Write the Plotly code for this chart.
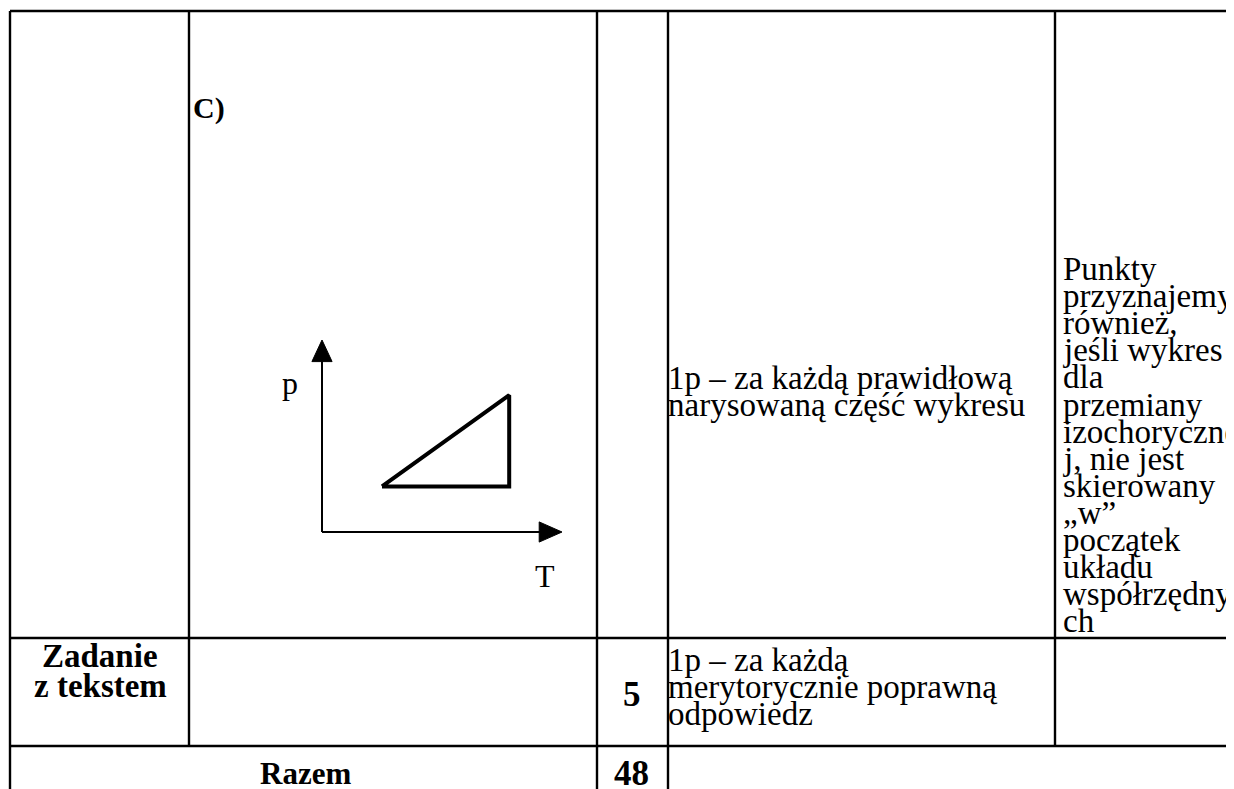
import plotly.graph_objects as go

W, H = 1234, 789
OFF = 8  # the page body adds an 8px margin; pull everything back by that much
SERIF = "Liberation Serif, Times New Roman, serif"

# p-T cycle drawn in the small diagram (arbitrary units)
cycle_T = [2.5, 7.8, 7.8, 2.5]
cycle_p = [1.9, 5.7, 1.9, 1.9]

criteria_lines = ["1p – za każdą prawidłową", "narysowaną część wykresu"]
note_lines = [
    "Punkty", "przyznajemy", "również,", "jeśli wykres", "dla", "przemiany",
    "izochoryczne", "j, nie jest", "skierowany", "„w”", "początek", "układu",
    "współrzędny", "ch",
]
task_label = ["Zadanie", "z tekstem"]
task_points = "5"
task_criteria = ["1p – za każdą", "merytorycznie poprawną", "odpowiedz"]
total_label = "Razem"
total_points = "48"

# table grid (pixels of the page)
COLS = [10, 189, 597, 668, 1055]
ROWS = [11, 638, 746]


def px(x):
    return (x - OFF) / W


def py(y):
    return 1 - (y - OFF) / H


def add_line(fig, x0, y0, x1, y1, width=2.4):
    fig.add_shape(type="line", xref="paper", yref="paper",
                  x0=px(x0), y0=py(y0), x1=px(x1), y1=py(y1),
                  line=dict(color="black", width=width))


def add_text(fig, x, y, text, size=33, bold=False, xanchor="left"):
    if bold:
        text = "<b>%s</b>" % text
    fig.add_annotation(xref="paper", yref="paper", x=px(x), y=py(y), text=text,
                       showarrow=False, xanchor=xanchor, yanchor="middle",
                       font=dict(family=SERIF, size=size, color="black"))


fig = go.Figure()

# triangle of the cycle on its own small p-T axes
fig.add_trace(go.Scatter(x=cycle_T, y=cycle_p, xaxis="x2", yaxis="y2",
                         mode="lines", line=dict(color="black", width=4),
                         hoverinfo="skip", showlegend=False))

# axis arrows of the diagram
fig.add_shape(type="line", xref="x2", yref="y2", x0=0, y0=0, x1=0, y1=7.2,
              line=dict(color="black", width=2))
fig.add_shape(type="path", xref="x2", yref="y2",
              path="M -0.42,7.1 L 0.42,7.1 L 0,8 Z",
              fillcolor="black", line=dict(color="black", width=1))
fig.add_shape(type="line", xref="x2", yref="y2", x0=0, y0=0, x1=9.1, y1=0,
              line=dict(color="black", width=2))
fig.add_shape(type="path", xref="x2", yref="y2",
              path="M 9.05,-0.42 L 9.05,0.42 L 10,0 Z",
              fillcolor="black", line=dict(color="black", width=1))

# table grid
for y in ROWS:
    add_line(fig, COLS[0], y, W + 20, y)
add_line(fig, COLS[0], ROWS[0], COLS[0], H + 20)
add_line(fig, COLS[1], ROWS[0], COLS[1], ROWS[2])
add_line(fig, COLS[2], ROWS[0], COLS[2], H + 20)
add_line(fig, COLS[3], ROWS[0], COLS[3], H + 20)
add_line(fig, COLS[4], ROWS[0], COLS[4], ROWS[2])

# first row
add_text(fig, 191, 108, "C)", size=30, bold=True)
add_text(fig, 290, 383, "p", size=32, xanchor="center")
add_text(fig, 545, 576, "T", size=32, xanchor="center")
for i, line in enumerate(criteria_lines):
    add_text(fig, 666, 378 + 27 * i, line)
for i, line in enumerate(note_lines):
    add_text(fig, 1061, 269 + 27.1 * i, line)

# task row
for i, line in enumerate(task_label):
    add_text(fig, 100, 656 + 30 * i, line, size=33, bold=True, xanchor="center")
add_text(fig, 632, 694, task_points, size=35, bold=True, xanchor="center")
for i, line in enumerate(task_criteria):
    add_text(fig, 666, 660 + 27 * i, line)

# total row
add_text(fig, 305, 773, total_label, size=31, bold=True, xanchor="center")
add_text(fig, 632, 773, total_points, size=35, bold=True, xanchor="center")

fig.update_layout(
    width=W, height=H,
    margin=dict(l=0, r=0, t=0, b=0),
    paper_bgcolor="white", plot_bgcolor="rgba(0,0,0,0)",
    showlegend=False,
    # 24 px per unit on both diagram axes, origin at page pixel (322, 532)
    xaxis2=dict(domain=[px(298), px(574)], range=[-1, 10.5], visible=False,
                anchor="y2", fixedrange=True),
    yaxis2=dict(domain=[py(556), py(328)], range=[-1, 8.5], visible=False,
                anchor="x2", fixedrange=True),
)

fig.write_html("out.html")
